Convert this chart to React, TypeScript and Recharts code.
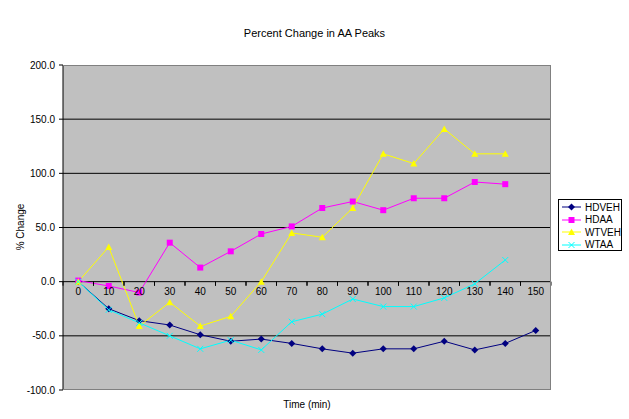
import React from "react"
import {
  LineChart,
  Line,
  XAxis,
  YAxis,
  CartesianGrid,
} from "recharts"

const times = [0, 10, 20, 30, 40, 50, 60, 70, 80, 90, 100, 110, 120, 130, 140, 150]

const hdveh = [0, -25, -36, -40, -49, -55, -53, -57, -62, -66, -62, -62, -55, -63, -57, -45]
const hdaa = [1, -4, -10, 36, 13, 28, 44, 51, 68, 74, 66, 77, 77, 92, 90, null]
const wtveh = [0, 32, -41, -19, -41, -32, 0, 45, 41, 68, 118, 109, 141, 118, 118, null]
const wtaa = [0, -26, -38, -50, -62, -54, -63, -37, -30, -16, -23, -23, -15, -2, 20, null]

const yTicks = [-100, -50, 0, 50, 100, 150, 200]
const gridValues = [-50, 0, 50, 100, 150]

const data = times.map((t, i) => ({
  time: t,
  HDVEH: hdveh[i],
  HDAA: hdaa[i],
  WTVEH: wtveh[i],
  WTAA: wtaa[i],
}))

const FONT = "'Liberation Sans', Arial, sans-serif"

const W = 629
const H = 419
const X_AXIS_H = 1
const MARGIN = { top: 65, right: 78, bottom: 29 - X_AXIS_H, left: 13 }
const Y_AXIS_W = 50
const PLOT_LEFT = MARGIN.left + Y_AXIS_W
const PLOT_W = W - PLOT_LEFT - MARGIN.right
const PLOT_H = H - MARGIN.top - MARGIN.bottom - X_AXIS_H
const Y_MIN = -100
const Y_MAX = 200
const BAND = PLOT_W / times.length

// x-axis crosses at 0, so labels sit on the zero line
const ZERO_SHIFT = (PLOT_H * (0 - Y_MIN)) / (Y_MAX - Y_MIN)

function ZeroTick({ x, y, payload }: any) {
  const y0 = y - ZERO_SHIFT
  return (
    <g>
      <line x1={x - BAND / 2} x2={x - BAND / 2} y1={y0} y2={y0 + 4} stroke="#000" />
      <line x1={x + BAND / 2} x2={x + BAND / 2} y1={y0} y2={y0 + 4} stroke="#000" />
      <text
        x={x}
        y={y0 + 6}
        dy="0.71em"
        textAnchor="middle"
        fontSize={10}
        fontFamily={FONT}
        fill="#000"
      >
        {payload.value}
      </text>
    </g>
  )
}

function Diamond({ cx, cy, fill }: any) {
  if (cx == null || cy == null) return null
  return <polygon points={`${cx},${cy - 3.5} ${cx + 3.5},${cy} ${cx},${cy + 3.5} ${cx - 3.5},${cy}`} fill={fill} />
}

function Square({ cx, cy, fill }: any) {
  if (cx == null || cy == null) return null
  return <rect x={cx - 3} y={cy - 3} width={6} height={6} fill={fill} />
}

function Triangle({ cx, cy, fill }: any) {
  if (cx == null || cy == null) return null
  return <polygon points={`${cx},${cy - 3.5} ${cx + 3.5},${cy + 3} ${cx - 3.5},${cy + 3}`} fill={fill} />
}

function Cross({ cx, cy, stroke }: any) {
  if (cx == null || cy == null) return null
  return (
    <g stroke={stroke} strokeWidth={1}>
      <line x1={cx - 3} y1={cy - 3} x2={cx + 3} y2={cy + 3} />
      <line x1={cx - 3} y1={cy + 3} x2={cx + 3} y2={cy - 3} />
    </g>
  )
}

const SERIES = [
  { key: "HDVEH", color: "#000080", Marker: Diamond },
  { key: "HDAA", color: "#FF00FF", Marker: Square },
  { key: "WTVEH", color: "#FFFF00", Marker: Triangle },
  { key: "WTAA", color: "#00FFFF", Marker: Cross },
]

function LegendBox() {
  return (
    <div
      style={{
        position: "absolute",
        left: 558,
        top: 199,
        width: 64,
        height: 52,
        border: "1px solid #000",
        background: "#fff",
        fontFamily: FONT,
        fontSize: 10,
        paddingTop: 1,
        boxSizing: "border-box",
      }}
    >
      {SERIES.map(({ key, color, Marker }) => (
        <div key={key} style={{ display: "flex", alignItems: "center", height: 12.5 }}>
          <svg width={24} height={10} style={{ marginLeft: 1 }}>
            <line x1={2} x2={21} y1={5} y2={5} stroke={color} />
            <Marker cx={11.5} cy={5} fill={color} stroke={color} />
          </svg>
          <span style={{ marginLeft: 1 }}>{key}</span>
        </div>
      ))}
    </div>
  )
}

export default function App() {
  return (
    <div style={{ position: "absolute", left: 0, top: 0, width: W, height: H, background: "#fff" }}>
      <div
        style={{
          position: "absolute",
          top: 27,
          left: 0,
          width: W,
          textAlign: "center",
          fontFamily: FONT,
          fontSize: 11,
        }}
      >
        Percent Change in AA Peaks
      </div>
      <LineChart width={W} height={H} data={data} margin={MARGIN} style={{ position: "absolute", left: 0, top: 0 }}>
        <CartesianGrid
          vertical={false}
          horizontalValues={gridValues}
          stroke="#000"
          strokeWidth={1}
          fill="#C0C0C0"
          fillOpacity={1}
        />
        <XAxis
          dataKey="time"
          type="category"
          axisLine={false}
          tickLine={false}
          tickSize={0}
          tickMargin={0}
          height={X_AXIS_H}
          interval={0}
          padding={{ left: BAND / 2, right: BAND / 2 }}
          tick={<ZeroTick />}
        />
        <YAxis
          type="number"
          domain={[Y_MIN, Y_MAX]}
          ticks={yTicks}
          interval={0}
          width={Y_AXIS_W}
          axisLine={{ stroke: "#000" }}
          tickLine={{ stroke: "#000" }}
          tickSize={4}
          tickMargin={4}
          tickFormatter={(v: number) => v.toFixed(1)}
          tick={{ fontSize: 10, fill: "#000", fontFamily: FONT }}
        />
        {SERIES.map(({ key, color, Marker }) => (
          <Line
            key={key}
            type="linear"
            dataKey={key}
            stroke={color}
            strokeWidth={1}
            dot={<Marker fill={color} stroke={color} />}
            activeDot={false}
            connectNulls={false}
            isAnimationActive={false}
          />
        ))}
      </LineChart>
      {/* plot-area frame: gray on top, right and bottom */}
      <div
        style={{
          position: "absolute",
          left: PLOT_LEFT,
          top: MARGIN.top,
          width: PLOT_W,
          height: PLOT_H,
          borderTop: "1px solid #808080",
          borderRight: "1px solid #808080",
          borderBottom: "1px solid #808080",
          boxSizing: "border-box",
          pointerEvents: "none",
        }}
      />
      <div
        style={{
          position: "absolute",
          left: 20,
          top: 227,
          transform: "translate(-50%, -50%) rotate(-90deg)",
          fontFamily: FONT,
          fontSize: 10,
          whiteSpace: "nowrap",
        }}
      >
        % Change
      </div>
      <div
        style={{
          position: "absolute",
          top: 399,
          left: PLOT_LEFT,
          width: PLOT_W,
          textAlign: "center",
          fontFamily: FONT,
          fontSize: 10,
        }}
      >
        Time (min)
      </div>
      <LegendBox />
    </div>
  )
}
